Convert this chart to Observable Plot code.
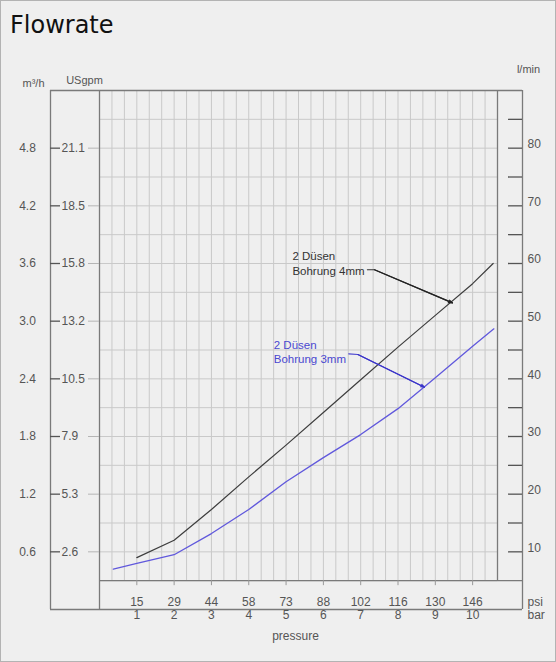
<!DOCTYPE html>
<html><head><meta charset="utf-8">
<script src="https://cdn.jsdelivr.net/npm/d3@7"></script>
<script src="https://cdn.jsdelivr.net/npm/@observablehq/plot@0.6"></script>
<style>
html,body{margin:0;padding:0;background:#efefef;}
#wrap{position:relative;width:556px;height:662px;background:#efefef;box-shadow:inset 0 0 0 1px #b3b3b3;overflow:hidden;}
#title{position:absolute;left:10px;top:0;height:50px;font:24px "DejaVu Sans",sans-serif;color:#111;line-height:24px;padding-top:13px;box-sizing:border-box;}
#chart{position:absolute;left:0;top:50px;}
</style></head><body>
<div id="wrap"><div id="title">Flowrate</div><div id="chart"></div></div>
<script>
// ---- data ----
const pressureBar = [1,2,3,4,5,6,7,8,9,10];
const pressurePsi = ["15","29","44","58","73","88","102","116","130","146"];
const flowM3h = [0.6,1.2,1.8,2.4,3.0,3.6,4.2,4.8];
const flowM3hLabels = ["0.6","1.2","1.8","2.4","3.0","3.6","4.2","4.8"];
const flowUSgpm = ["2.6","5.3","7.9","10.5","13.2","15.8","18.5","21.1"];
const flowLmin = [10,20,30,40,50,60,70,80];
const flowLminTicks = [10,15,20,25,30,35,40,45,50,55,60,65,70,75,80,85];
const curve4mmBar = [1,2,3,4,5,6,7,8,9,10,10.55];
const curve4mmM3h = [0.54,0.72,1.04,1.38,1.71,2.05,2.39,2.73,3.06,3.39,3.60];
const curve3mmBar = [0.37,1,2,3,4,5,6,7,8,9,10,10.57];
const curve3mmM3h = [0.42,0.48,0.57,0.79,1.04,1.33,1.58,1.82,2.09,2.41,2.74,2.92];
const label4mm = "2 Düsen\nBohrung 4mm";
const label3mm = "2 Düsen\nBohrung 3mm";
const leader4mmBar = [7.18,7.37,9.46];
const leader4mmM3h = [3.535,3.535,3.19];
const leader3mmBar = [6.68,6.925,8.71];
const leader3mmM3h = [2.66,2.653,2.313];

// ---- derived ----
const xMax = 32/3, yMax = 5.4, yGrid0 = 0.3;
const LMIN_PER_M3H = 1000/60;
const line4 = curve4mmBar.map((b,i)=>({bar:b, q:curve4mmM3h[i]}));
const line3 = curve3mmBar.map((b,i)=>({bar:b, q:curve3mmM3h[i]}));
const lead4 = leader4mmBar.map((b,i)=>({bar:b, q:leader4mmM3h[i]}));
const lead3 = leader3mmBar.map((b,i)=>({bar:b, q:leader3mmM3h[i]}));
const leftTicks = flowM3h.map((v,i)=>({q:v, m3:flowM3hLabels[i], gpm:flowUSgpm[i]}));
const rightTicks = flowLminTicks.map(v=>({q:v/LMIN_PER_M3H}));
const rightLabels = flowLmin.map(v=>({q:v/LMIN_PER_M3H, t:String(v)}));
const bottom = pressureBar.map((b,i)=>({bar:b, psi:pressurePsi[i]}));
const vGrid = d3.range(0, 33).map(k=>k/3);
const hGrid = d3.range(1, 19).map(k=>+(k*0.3).toFixed(2));

const frameC = "#7a7a7a", gridC = "#c9c9c9", textC = "#555";
const FONT = "Liberation Sans, Arial, sans-serif";

const plot = Plot.plot({
  width: 556, height: 612,
  marginLeft: 99, marginRight: 59, marginTop: 40, marginBottom: 53,
  x: {domain: [0, xMax], axis: null},
  y: {domain: [0, yMax], axis: null},
  style: {background: "transparent", fontFamily: FONT, color: textC},
  marks: [
    // grid
    Plot.ruleX(vGrid, {x: d=>d, y1: yGrid0, y2: yMax, stroke: gridC, strokeWidth: 1}),
    Plot.ruleY(hGrid, {y: d=>d, x1: 0, x2: xMax, stroke: gridC, strokeWidth: 1}),
    // frame
    Plot.ruleY([yMax], {x1: 0, x2: xMax, insetLeft: -49, insetRight: -25, stroke: frameC, strokeWidth: 1.3}),
    Plot.ruleY([0], {x1: 0, x2: xMax, insetLeft: -49, insetRight: -25, stroke: frameC, strokeWidth: 1.3}),
    Plot.ruleY([yGrid0], {x1: 0, x2: xMax, insetRight: -25, stroke: frameC, strokeWidth: 1.3}),
    Plot.ruleX([0], {y1: 0, y2: yMax, dx: -49, stroke: frameC, strokeWidth: 1.3}),
    Plot.ruleX([0], {y1: 0, y2: yMax, stroke: frameC, strokeWidth: 1.3}),
    Plot.ruleX([xMax], {y1: yGrid0, y2: yMax, stroke: frameC, strokeWidth: 1.3}),
    Plot.ruleX([xMax], {y1: 0, y2: yMax, dx: 25, stroke: frameC, strokeWidth: 1.3}),
    // left axes
    Plot.ruleY(leftTicks, {y: "q", x1: 0, x2: 0, insetLeft: -11, stroke: "#b5b5b5"}),
    Plot.ruleY(leftTicks, {y: "q", x1: 0, x2: 0, insetLeft: -49, insetRight: 39, stroke: "#555", strokeWidth: 1.3}),
    Plot.text(leftTicks, {y: "q", x: 0, text: "gpm", dx: -38, textAnchor: "start", fontSize: 12, fill: textC, letterSpacing: 1}),
    Plot.text(leftTicks, {y: "q", x: 0, text: "m3", dx: -72, textAnchor: "middle", fontSize: 12, fill: textC, letterSpacing: 1}),
    Plot.text(["m³/h"], {x: 0, y: yMax, dx: -66, dy: -7, fontSize: 11, fill: textC}),
    Plot.text(["USgpm"], {x: 0, y: yMax, dx: -15, dy: -10, fontSize: 11, fill: textC}),
    // right axis
    Plot.ruleY(rightTicks, {y: "q", x1: xMax, x2: xMax, insetLeft: 11, insetRight: -25, stroke: "#555", strokeWidth: 1.3}),
    Plot.text(rightLabels, {y: "q", x: xMax, text: "t", dx: 30, dy: -4, textAnchor: "start", fontSize: 12, fill: textC, letterSpacing: 1}),
    Plot.text(["l/min"], {x: xMax, y: yMax, dx: 31, dy: -21, fontSize: 11, fill: textC}),
    // bottom axis
    Plot.ruleX(bottom, {x: "bar", y1: yGrid0, y2: yGrid0, insetTop: 5, stroke: "#999"}),
    Plot.text(bottom, {x: "bar", y: 0, text: "psi", dy: -7, fontSize: 12, fill: textC}),
    Plot.text(bottom, {x: "bar", y: 0, text: d=>String(d.bar), dy: 6, fontSize: 12, fill: textC}),
    Plot.text(["psi"], {x: xMax, y: 0, dx: 30, dy: -7, textAnchor: "start", fontSize: 12, fill: textC}),
    Plot.text(["bar"], {x: xMax, y: 0, dx: 30, dy: 6, textAnchor: "start", fontSize: 12, fill: textC}),
    Plot.text(["pressure"], {x: xMax/2, y: 0, dx: -3, dy: 27, fontSize: 12, fill: textC}),
    // curves
    Plot.line(line4, {x: "bar", y: "q", stroke: "#3d3d3d", strokeWidth: 1.2}),
    Plot.line(line3, {x: "bar", y: "q", stroke: "#6058dc", strokeWidth: 1.3}),
    // annotations
    Plot.line(lead4, {x: "bar", y: "q", stroke: "#333", strokeWidth: 1.2}),
    Plot.arrow([lead4], {x1: d=>d[1].bar, y1: d=>d[1].q, x2: d=>d[2].bar, y2: d=>d[2].q, stroke: "#222", strokeWidth: 1.2, headLength: 5, headAngle: 40}),
    Plot.line(lead3, {x: "bar", y: "q", stroke: "#4a44d0", strokeWidth: 1.2}),
    Plot.arrow([lead3], {x1: d=>d[1].bar, y1: d=>d[1].q, x2: d=>d[2].bar, y2: d=>d[2].q, stroke: "#3a34c8", strokeWidth: 1.2, headLength: 5, headAngle: 40}),
    Plot.text([label4mm], {x: 5.17, y: 3.607, textAnchor: "start", fontSize: 11.5, lineHeight: 1.3, fill: "#333"}),
    Plot.text([label3mm], {x: 4.67, y: 2.687, textAnchor: "start", fontSize: 11.5, lineHeight: 1.3, fill: "#4a48d0"})
  ]
});
document.getElementById("chart").appendChild(plot);
</script>
</body></html>
